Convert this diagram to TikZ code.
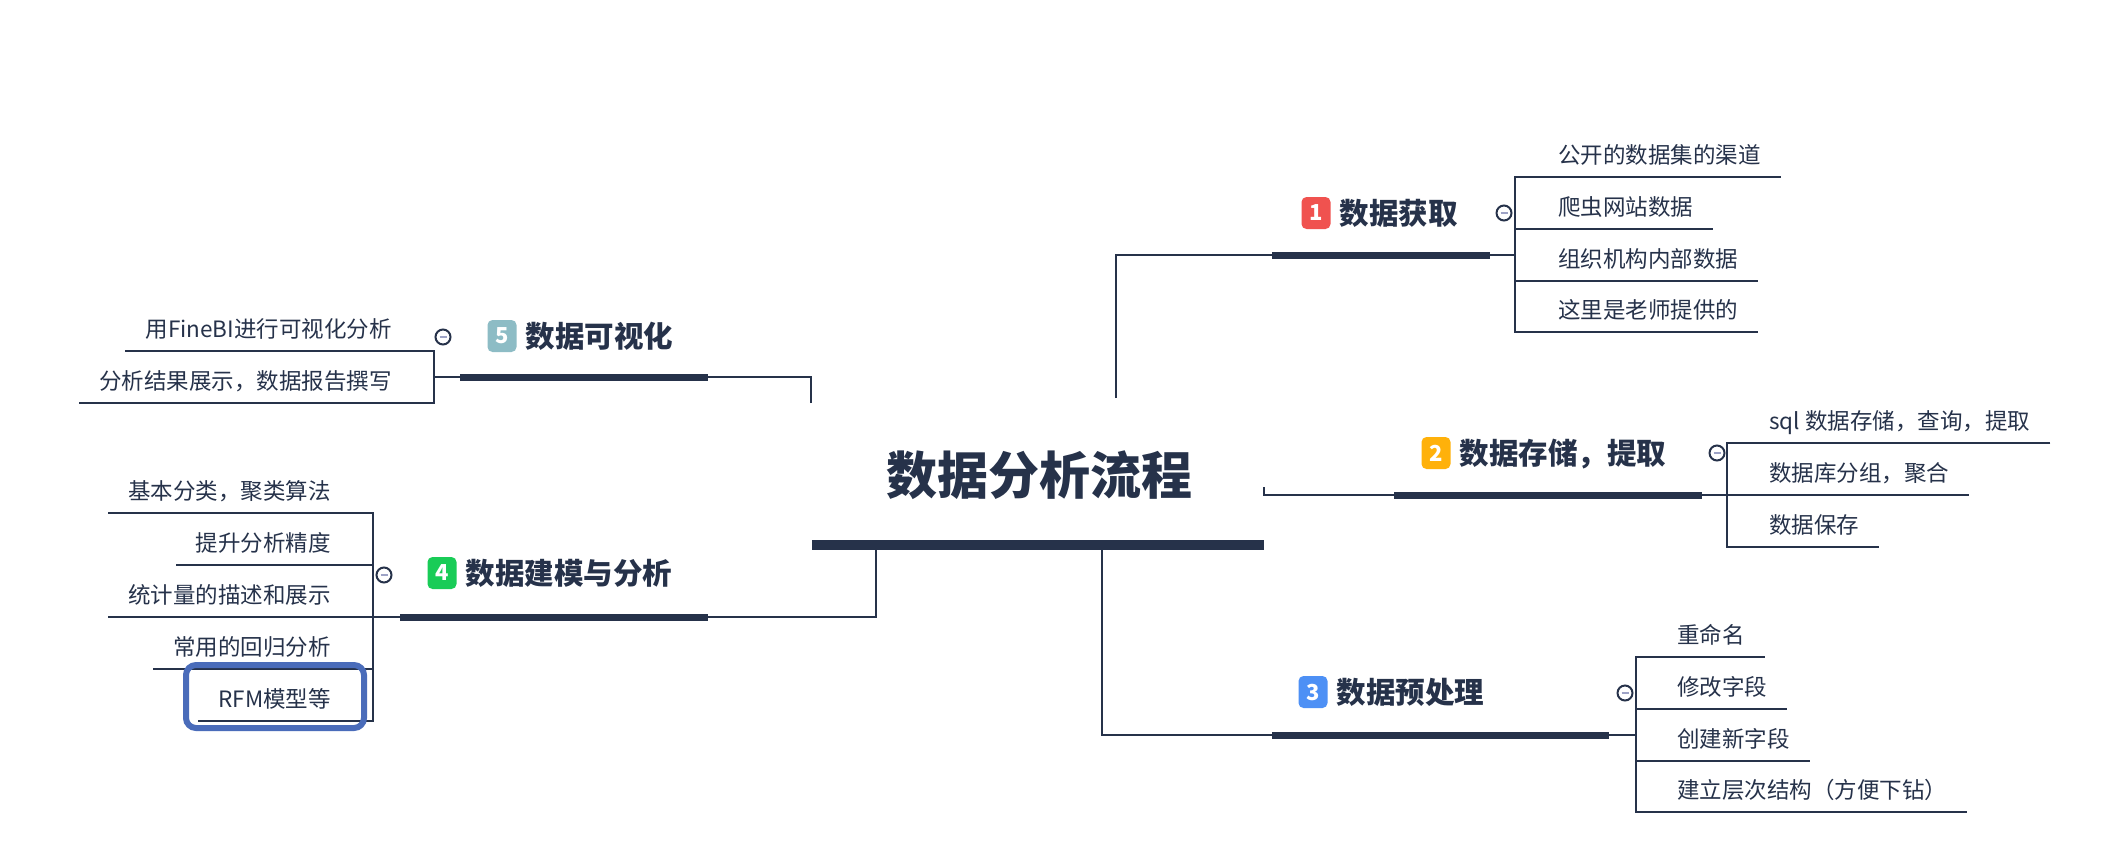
\documentclass[tikz,border=0pt]{standalone}
\usepackage{fontspec}
\setmainfont{Noto Sans CJK SC}
\usetikzlibrary{positioning}
\definecolor{ink}{HTML}{26324A}
\definecolor{redbadge}{HTML}{F0524F}
\definecolor{orangebadge}{HTML}{FFB10A}
\definecolor{bluebadge}{HTML}{4D90F5}
\definecolor{greenbadge}{HTML}{19CC57}
\definecolor{tealbadge}{HTML}{8DBCC5}
\definecolor{hiblue}{HTML}{4A6CBA}
\definecolor{minusgray}{HTML}{9EA3C6}

\begin{document}
\begin{tikzpicture}[x=1pt, y=-1pt,
  topic/.style={font=\fontsize{51}{60}\selectfont\bfseries, text=ink, anchor=base, inner sep=0pt},
  badge/.style={fill=#1, rounded corners=5pt, minimum width=29pt, minimum height=32pt,
                inner sep=0pt, text=white, font=\fontsize{22}{24}\selectfont\bfseries},
  branch/.style={font=\fontsize{29.5}{32}\selectfont\bfseries, text=ink, inner sep=0pt,
                 anchor=west, text height=26pt, text depth=3.5pt},
  leafr/.style={font=\fontsize{22.5}{24}\selectfont, text=ink, inner xsep=20pt, inner ysep=0pt,
                text depth=13.5pt, anchor=south west},
  leafl/.style={leafr, anchor=south east},
  link/.style={draw=ink, line width=2pt},
  bar/.style={draw=ink, line width=7pt},
  fold/.style={circle, draw=ink, fill=white, line width=2pt, minimum size=15pt, inner sep=0pt,
               path picture={\draw[minusgray, line width=2.5pt]
                 ([xshift=-3.5pt]path picture bounding box.center) --
                 ([xshift=3.5pt]path picture bounding box.center);}},
  hilite/.style={draw=hiblue, line width=6pt, rounded corners=10pt}
]
  \useasboundingbox (0,0) rectangle (2108,863);
  \fill[white] (0,0) rectangle (2108,863);

  % central topic
  \node[topic] (root) at (1039,494) {数据分析流程};
  \coordinate (rootw) at (812,545);
  \coordinate (roote) at (1264,545);
  \draw[ink, line width=10pt] (rootw) -- (roote);

  % branch 1
  \node[badge=redbadge] (n1) at (1316,213) {1};
  \node[branch, right=9pt of n1] (t1) {数据获取};
  \node[fold] (f1) at (1504,213) {};
  \node[leafr] (l11) at (1538,177) {公开的数据集的渠道};
  \node[leafr] (l12) at (1538,229) {爬虫网站数据};
  \node[leafr] (l13) at (1538,281) {组织机构内部数据};
  \node[leafr] (l14) at (1538,332) {这里是老师提供的};
  \coordinate (r1) at (1116,398);
  \coordinate (b1w) at (1272,255);
  \coordinate (b1e) at (1490,255);
  \coordinate (k1) at (1515,255);
  \draw[link] (r1) |- (b1w);
  \draw[bar] (b1w) -- (b1e);
  \draw[link] (b1e) -- (k1);
  \draw[link] (l11.south east) -| (k1 |- l14.south) -- (l14.south east);
  \draw[link] (k1 |- l12.south) -- (l12.south east);
  \draw[link] (k1 |- l13.south) -- (l13.south east);

  % branch 2
  \node[badge=orangebadge] (n2) at (1436,453) {2};
  \node[branch, right=9pt of n2] (t2) {数据存储，提取};
  \node[fold] (f2) at (1717,453) {};
  \node[leafr] (l21) at (1749,443) {sql 数据存储，查询，提取};
  \node[leafr] (l22) at (1749,495) {数据库分组，聚合};
  \node[leafr] (l23) at (1749,547) {数据保存};
  \coordinate (r2) at (1264,487);
  \coordinate (b2w) at (1394,495);
  \coordinate (b2e) at (1702,495);
  \coordinate (k2) at (1727,495);
  \draw[link] (r2) |- (b2w);
  \draw[bar] (b2w) -- (b2e);
  \draw[link] (b2e) -- (k2);
  \draw[link] (l21.south east) -| (k2 |- l23.south) -- (l23.south east);
  \draw[link] (k2 |- l22.south) -- (l22.south east);

  % branch 3
  \node[badge=bluebadge] (n3) at (1313,692) {3};
  \node[branch, right=9pt of n3] (t3) {数据预处理};
  \node[fold] (f3) at (1625,693) {};
  \node[leafr] (l31) at (1657,657) {重命名};
  \node[leafr] (l32) at (1657,709) {修改字段};
  \node[leafr] (l33) at (1657,761) {创建新字段};
  \node[leafr] (l34) at (1657,812) {建立层次结构（方便下钻）};
  \coordinate (r3) at (1102,545);
  \coordinate (b3w) at (1272,735);
  \coordinate (b3e) at (1609,735);
  \coordinate (k3) at (1636,735);
  \draw[link] (r3) |- (b3w);
  \draw[bar] (b3w) -- (b3e);
  \draw[link] (b3e) -- (k3);
  \draw[link] (l31.south east) -| (k3 |- l34.south) -- (l34.south east);
  \draw[link] (k3 |- l32.south) -- (l32.south east);
  \draw[link] (k3 |- l33.south) -- (l33.south east);

  % branch 4
  \node[badge=greenbadge] (n4) at (442,573) {4};
  \node[branch, right=9pt of n4] (t4) {数据建模与分析};
  \node[fold] (f4) at (384,575) {};
  \node[leafl] (l41) at (351,513) {基本分类，聚类算法};
  \node[leafl] (l42) at (351,565) {提升分析精度};
  \node[leafl] (l43) at (351,617) {统计量的描述和展示};
  \node[leafl] (l44) at (351,669) {常用的回归分析};
  \node[leafl] (l45) at (351,721) {RFM模型等};
  \coordinate (r4) at (876,545);
  \coordinate (b4e) at (708,617);
  \coordinate (b4w) at (400,617);
  \coordinate (k4) at (373,617);
  \draw[link] (r4) |- (b4e);
  \draw[bar] (b4w) -- (b4e);
  \draw[link] (b4w) -- (k4);
  \draw[link] (l41.south west) -| (k4 |- l45.south) -- (l45.south west);
  \draw[link] (k4 |- l42.south) -- (l42.south west);
  \draw[link] (k4 |- l43.south) -- (l43.south west);
  \draw[link] (k4 |- l44.south) -- (l44.south west);
  \draw[hilite] (186,665) rectangle (364,728);

  % branch 5
  \node[badge=tealbadge] (n5) at (502,336) {5};
  \node[branch, right=9pt of n5] (t5) {数据可视化};
  \node[fold] (f5) at (443,337) {};
  \node[leafl] (l51) at (412,351) {用FineBI进行可视化分析};
  \node[leafl] (l52) at (412,403) {分析结果展示，数据报告撰写};
  \coordinate (r5) at (811,403);
  \coordinate (b5e) at (708,377);
  \coordinate (b5w) at (460,377);
  \coordinate (k5) at (434,377);
  \draw[link] (r5) |- (b5e);
  \draw[bar] (b5w) -- (b5e);
  \draw[link] (b5w) -- (k5);
  \draw[link] (l51.south west) -| (k5 |- l52.south) -- (l52.south west);
\end{tikzpicture}
\end{document}
